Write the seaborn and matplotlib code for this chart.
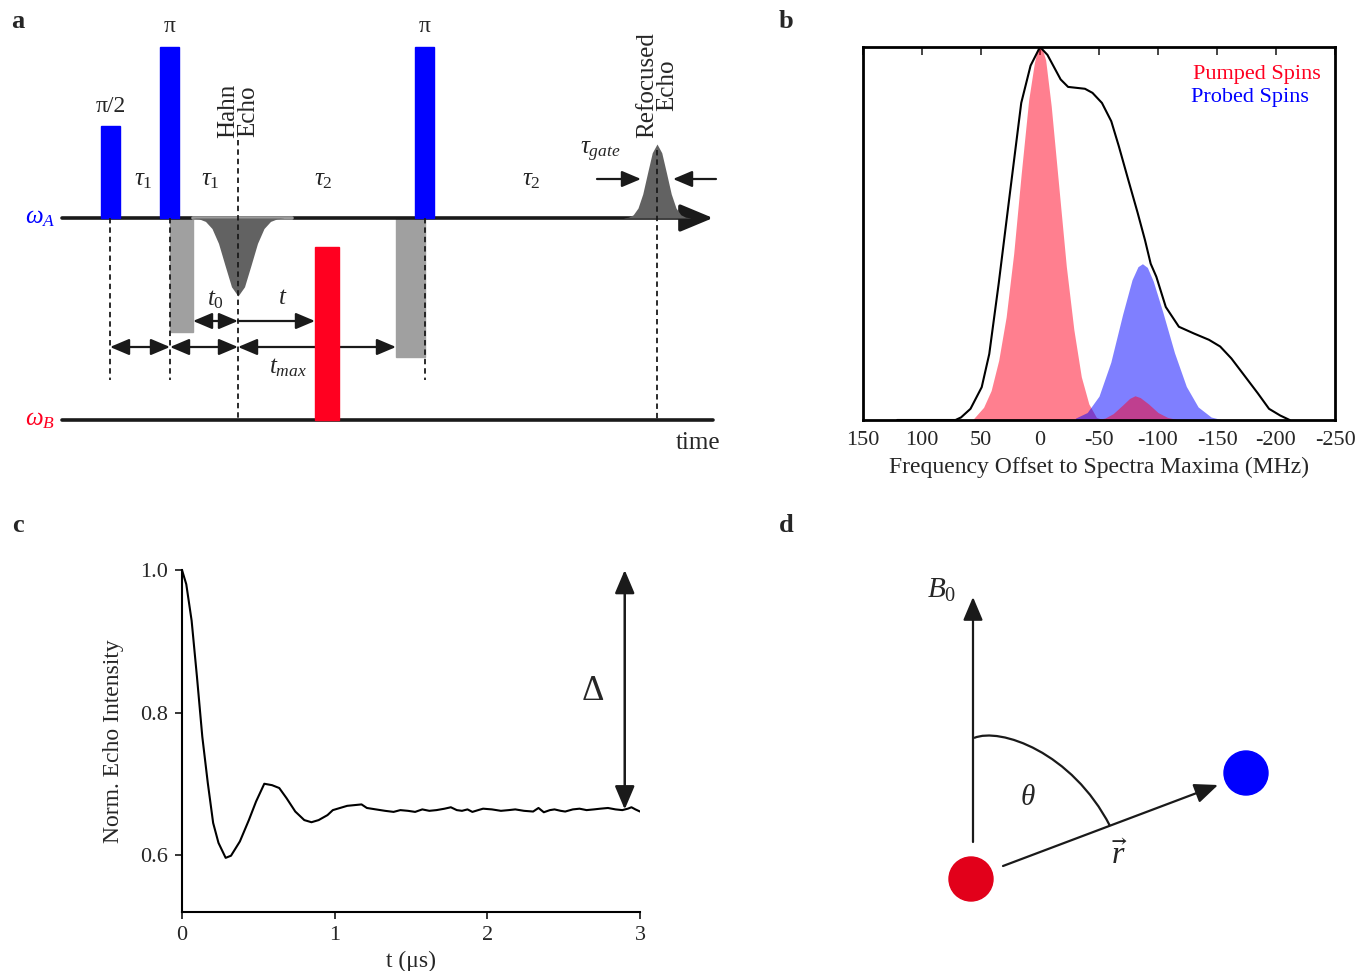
import matplotlib
matplotlib.use("Agg")
import matplotlib.pyplot as plt
import seaborn as sns
import pandas as pd
from matplotlib.patches import Rectangle, Circle, PathPatch
from matplotlib.path import Path

# ---------------- panel b: EPR spectrum and excitation profiles ----------------
spec_freq = [121, 110, 90, 71.6, 66.9, 58.9, 49.4, 43.0, 35.0, 25.5, 15.9, 8.0, 0.0,
             -6.3, -17.5, -23.8, -38.1, -44.5, -52.5, -60.4, -66.8, -74.7, -82.7, -89.0,
             -93.8, -98.6, -106.6, -117.7, -130.4, -143.2, -152.7, -162.2, -171.8,
             -184.5, -194.1, -203.6, -211.6]
spec_int = [0, 0, 0, 0, 0.007, 0.03, 0.088, 0.177, 0.366, 0.608, 0.85, 0.95, 1.0,
            0.979, 0.913, 0.893, 0.888, 0.877, 0.85, 0.801, 0.734, 0.645, 0.556, 0.482,
            0.419, 0.384, 0.303, 0.25, 0.232, 0.215, 0.197, 0.165, 0.125,
            0.072, 0.03, 0.012, 0]

pump_freq = [57.3, 47.8, 41.4, 35.0, 28.7, 22.3, 15.9, 9.6, 4.8, 2.4, 0, -2.4, -4.8,
             -9.5, -15.9, -22.3, -28.7, -35.0, -41.4, -47.8, -54.2]
pump_int = [0, 0.034, 0.079, 0.16, 0.276, 0.446, 0.661, 0.858, 0.957, 0.99, 1.0, 0.99,
            0.965, 0.842, 0.627, 0.412, 0.242, 0.116, 0.043, 0.007, 0]

probe_freq = [-30, -40, -50, -60, -70, -78, -83, -86.8, -91, -96, -104, -114, -124,
              -134, -145, -155]
probe_int = [0.005, 0.02, 0.064, 0.155, 0.283, 0.376, 0.411, 0.419, 0.409, 0.372,
             0.29, 0.18, 0.09, 0.035, 0.008, 0]

overlap_freq = [-45, -55, -62, -70, -76, -80.5, -85, -92, -100, -108, -118]
overlap_int = [0, 0.005, 0.017, 0.04, 0.058, 0.065, 0.06, 0.043, 0.02, 0.007, 0]

freq_ticks = [150, 100, 50, 0, -50, -100, -150, -200, -250]

# ---------------- panel c: DEER trace ----------------
trace_t = [0, 0.028, 0.063, 0.098, 0.133, 0.169, 0.204, 0.239, 0.286, 0.321, 0.379,
           0.438, 0.485, 0.539, 0.59, 0.637, 0.684, 0.742, 0.801, 0.848, 0.895, 0.953,
           0.988, 1.035, 1.082, 1.176, 1.211, 1.27, 1.33, 1.386, 1.43, 1.48, 1.527,
           1.574, 1.62, 1.667, 1.72, 1.761, 1.80, 1.834, 1.87, 1.902, 1.94, 1.972,
           2.03, 2.089, 2.14, 2.183, 2.24, 2.30, 2.335, 2.37, 2.41, 2.44, 2.48, 2.51,
           2.56, 2.604, 2.65, 2.698, 2.74, 2.79, 2.84, 2.884, 2.92, 2.944, 2.97, 3.0]
trace_y = [1.0, 0.98, 0.929, 0.85, 0.766, 0.701, 0.645, 0.617, 0.596, 0.599, 0.619,
           0.649, 0.675, 0.7, 0.698, 0.694, 0.68, 0.661, 0.649, 0.646, 0.649, 0.656,
           0.663, 0.666, 0.669, 0.671, 0.666, 0.664, 0.662, 0.6605, 0.663, 0.662, 0.6605,
           0.664, 0.662, 0.663, 0.665, 0.667, 0.663, 0.662, 0.664, 0.6605, 0.663, 0.665,
           0.664, 0.662, 0.663, 0.664, 0.662, 0.661, 0.666, 0.660, 0.663, 0.664, 0.662,
           0.661, 0.664, 0.665, 0.663, 0.664, 0.665, 0.666, 0.664, 0.663, 0.665, 0.667,
           0.664, 0.661]
delta_t = 2.9
delta_range = [0.664, 1.0]

# ---------------- panel a: pulse sequence (schematic, pixel units) ----------------
axis_A_y, axis_B_y, axis_x0, axis_x1 = 218, 420, 62, 713
mw_pulse_left = [101, 160, 415]
mw_pulse_top = [126, 47, 47]
mw_pulse_width = 19
mw_pulse_label = ["π/2", "π", "π"]
gray_left = [170, 396]
gray_width = [23, 29]
gray_bottom = [332, 357]
pump_left, pump_width, pump_top = 315, 24, 247
# echo profile: offset in widths, relative amplitude
echo_u = [-3.5, -3, -2.5, -2, -1.5, -1, -0.5, 0, 0.5, 1, 1.5, 2, 2.5, 3, 3.5]
echo_shape = [0.002, 0.011, 0.044, 0.135, 0.325, 0.607, 0.882, 1.0, 0.882, 0.607,
              0.325, 0.135, 0.044, 0.011, 0.002]
hahn_x, hahn_depth, hahn_width = 238, 78, 13
refoc_x, refoc_height, refoc_width = 657, 74, 9.5
dashed_x = [110, 170, 238, 425, 657]
dashed_top = [218, 218, 140, 218, 150]
dashed_bottom = [380, 380, 420, 380, 420]
arrows_row1 = [(110, 170), (170, 238), (238, 396)]
arrows_row2 = [(193, 238)]
tau_labels = [(143, r"$\tau_1$"), (210, r"$\tau_1$"), (323, r"$\tau_2$"), (531, r"$\tau_2$")]

# ---------------- panel d: dipolar geometry (pixel units) ----------------
spin_A = (971, 879)
spin_B = (1246, 773)
spin_radius = 22

sns.set_theme(style="ticks")
plt.rcParams["font.family"] = ["Liberation Serif", "DejaVu Serif"]
plt.rcParams["mathtext.fontset"] = "custom"
plt.rcParams["mathtext.rm"] = "Liberation Serif"
plt.rcParams["mathtext.it"] = "Liberation Serif:italic"
plt.rcParams["mathtext.bf"] = "Liberation Serif:bold"
plt.rcParams["mathtext.fallback"] = "stix"

W, H = 1359, 971
fig = plt.figure(figsize=(W / 100, H / 100), dpi=100)

ov = fig.add_axes([0, 0, 1, 1], zorder=0)
ov.set_xlim(0, W)
ov.set_ylim(H, 0)
ov.axis("off")

ink = "#1a1a1a"
small_head = "-|>,head_length=1.3,head_width=0.55"
small_dbl = "<|-|>,head_length=1.3,head_width=0.55"

# panel letters
for (px, py, lab) in [(18, 22, "a"), (786, 22, "b"), (18, 525, "c"), (786, 525, "d")]:
    ov.text(px, py, lab, fontsize=19, fontweight="bold", ha="center", va="center")

# ---- panel a ----
ov.annotate("", xy=(axis_x1, axis_A_y), xytext=(axis_x0, axis_A_y),
            arrowprops=dict(arrowstyle="-|>,head_length=1.2,head_width=0.5", lw=2.6,
                            color=ink, mutation_scale=17, shrinkA=0, shrinkB=0))
ov.plot([axis_x0, axis_x1], [axis_B_y, axis_B_y], color=ink, lw=2.6)
ov.plot([193, 292], [axis_A_y, axis_A_y], color="#9a9a9a", lw=2.6, zorder=3)

for x0, top, lab in zip(mw_pulse_left, mw_pulse_top, mw_pulse_label):
    ov.add_patch(Rectangle((x0, top), mw_pulse_width, axis_A_y - top, color="#0000ff", zorder=4))
    ov.text(x0 + mw_pulse_width / 2, top - 20, lab, fontsize=17, ha="center", va="center")
for x0, w, bot in zip(gray_left, gray_width, gray_bottom):
    ov.add_patch(Rectangle((x0, axis_A_y), w, bot - axis_A_y, color="#a0a0a0", zorder=2))
ov.add_patch(Rectangle((pump_left, pump_top), pump_width, axis_B_y - pump_top,
                       color="#ff0020", zorder=4))

hx = [hahn_x + u * hahn_width for u in echo_u]
ov.fill_between(hx, axis_A_y, [axis_A_y + hahn_depth * s for s in echo_shape],
                color="#626262", lw=0, zorder=3)
rx = [refoc_x + u * refoc_width for u in echo_u]
ov.fill_between(rx, axis_A_y, [axis_A_y - refoc_height * s for s in echo_shape],
                color="#626262", lw=0, zorder=3)

for x, t, b in zip(dashed_x, dashed_top, dashed_bottom):
    ov.plot([x, x], [t, b], color=ink, lw=1.3, ls=(0, (3, 2.2)), zorder=5)

arr_kw = dict(lw=1.6, color=ink, mutation_scale=9, shrinkA=0, shrinkB=0)
for a, b in arrows_row1:
    ov.annotate("", xy=(b, 347), xytext=(a, 347), arrowprops=dict(arrowstyle=small_dbl, **arr_kw))
for a, b in arrows_row2:
    ov.annotate("", xy=(b, 321), xytext=(a, 321), arrowprops=dict(arrowstyle=small_dbl, **arr_kw))
ov.annotate("", xy=(pump_left, 321), xytext=(238, 321),
            arrowprops=dict(arrowstyle=small_head, **arr_kw))
ov.annotate("", xy=(641, 179), xytext=(597, 179),
            arrowprops=dict(arrowstyle=small_head, **arr_kw))
ov.annotate("", xy=(673, 179), xytext=(716, 179),
            arrowprops=dict(arrowstyle=small_head, **arr_kw))

for x, lab in tau_labels:
    ov.text(x, 180, lab, fontsize=18, ha="center", va="center")
ov.text(215, 300, r"$t_0$", fontsize=18, ha="center", va="center")
ov.text(283, 298, r"$t$", fontsize=18, ha="center", va="center")
ov.text(288, 368, r"$t_{max}$", fontsize=18, ha="center", va="center")
ov.text(600, 152, r"$\tau_{gate}$", fontsize=18, ha="center", va="center")
ov.text(hahn_x, 138, "Hahn\nEcho", rotation=90, fontsize=18, ha="center", va="bottom",
        multialignment="center", linespacing=0.85)
ov.text(refoc_x, 138, "Refocused\nEcho", rotation=90, fontsize=18, ha="center", va="bottom",
        multialignment="center", linespacing=0.85)
ov.text(40, axis_A_y, r"$\omega_A$", color="#0000ff", fontsize=18, ha="center", va="center")
ov.text(40, axis_B_y, r"$\omega_B$", color="#ff0020", fontsize=18, ha="center", va="center")
ov.text(698, 443, "time", fontsize=18, ha="center", va="center")

# ---- panel d ----
ov.annotate("", xy=(973, 597), xytext=(973, 842),
            arrowprops=dict(arrowstyle=small_head, lw=1.6, color=ink, mutation_scale=11,
                            shrinkA=0, shrinkB=0))
ov.annotate("", xy=(1218, 785), xytext=(1003, 866),
            arrowprops=dict(arrowstyle=small_head, lw=1.6, color=ink, mutation_scale=11,
                            shrinkA=0, shrinkB=0))
arc = Path([(974, 738), (1000, 727), (1072, 752), (1110, 826)],
           [Path.MOVETO, Path.CURVE4, Path.CURVE4, Path.CURVE4])
ov.add_patch(PathPatch(arc, fill=False, lw=1.6, color=ink))
ov.add_patch(Circle(spin_A, spin_radius, color="#e2001a", zorder=5))
ov.add_patch(Circle(spin_B, spin_radius, color="#0000ff", zorder=5))
ov.text(942, 590, r"$B_0$", fontsize=21, ha="center", va="center")
ov.text(1028, 798, r"$\theta$", fontsize=21, ha="center", va="center")
ov.text(1120, 856, r"$\vec{r}$", fontsize=23, ha="center", va="center")

# ---- panel b ----
axb = fig.add_axes([863 / W, 1 - 420 / H, 472 / W, 373 / H], zorder=2)
axb.set_facecolor("none")
axb.fill_between(pump_freq, 0, pump_int, color="#ff0020", alpha=0.5, lw=0)
axb.fill_between(probe_freq, 0, probe_int, color="#0000ff", alpha=0.5, lw=0)
axb.fill_between(overlap_freq, 0, overlap_int, color="#ff0020", alpha=0.5, lw=0)
spec = pd.DataFrame({"freq": spec_freq, "intensity": spec_int})
sns.lineplot(data=spec, x="freq", y="intensity", ax=axb, color="black", lw=1.5,
             sort=False, estimator=None)
axb.set_xlim(150, -250)
axb.set_ylim(0, 1.0)
axb.set_yticks([])
axb.set_ylabel("")
axb.set_xticks(freq_ticks)
axb.set_xticklabels([str(v) for v in freq_ticks], fontsize=16)
axb.tick_params(axis="x", which="both", bottom=False, top=True, direction="in",
                length=6, width=1.2, labelbottom=True, pad=8)
for s in axb.spines.values():
    s.set_linewidth(2)
    s.set_color("black")
axb.set_xlabel("Frequency Offset to Spectra Maxima (MHz)", fontsize=17, labelpad=5)
axb.text(0.97, 0.925, "Pumped Spins", color="#ff0020", fontsize=16, ha="right",
         va="center", transform=axb.transAxes)
axb.text(0.945, 0.865, "Probed Spins", color="#0000ff", fontsize=16, ha="right",
         va="center", transform=axb.transAxes)

# ---- panel c ----
axc = fig.add_axes([182 / W, 1 - 912 / H, 458 / W, 342 / H], zorder=2)
axc.set_facecolor("none")
trace = pd.DataFrame({"t": trace_t, "echo": trace_y})
sns.lineplot(data=trace, x="t", y="echo", ax=axc, color="black", lw=1.5,
             sort=False, estimator=None)
axc.set_xlim(0, 3)
axc.set_ylim(0.52, 1.0)
axc.set_xticks([0, 1, 2, 3])
axc.set_yticks([0.6, 0.8, 1.0])
axc.set_yticklabels(["0.6", "0.8", "1.0"])
axc.tick_params(labelsize=16, length=5, width=1.3, direction="out", pad=5)
sns.despine(ax=axc)
for s in ["left", "bottom"]:
    axc.spines[s].set_linewidth(1.5)
    axc.spines[s].set_color("black")
axc.set_xlabel("t (μs)", fontsize=17, labelpad=4)
axc.set_ylabel("Norm. Echo Intensity", fontsize=17, labelpad=12)
axc.annotate("", xy=(delta_t, delta_range[1]), xytext=(delta_t, delta_range[0]),
             arrowprops=dict(arrowstyle=small_dbl, lw=1.8, color=ink,
                             mutation_scale=11, shrinkA=0, shrinkB=0))
axc.text(2.69, 0.83, r"$\mathrm{\Delta}$", fontsize=25, ha="center", va="center")

fig.savefig("out.png", dpi=100)
